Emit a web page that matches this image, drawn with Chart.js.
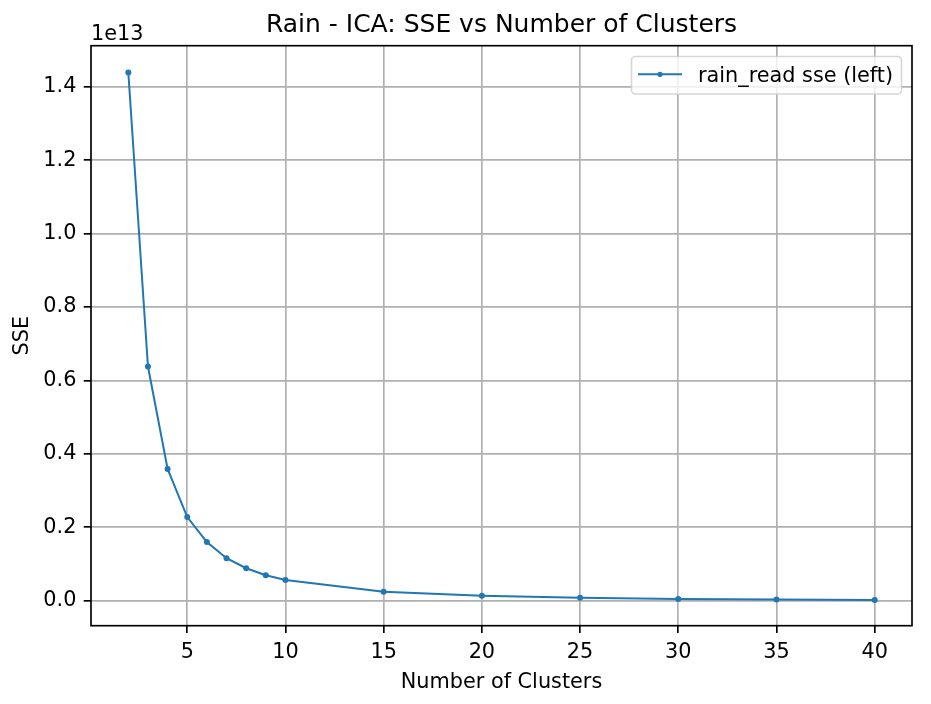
<!DOCTYPE html>
<html>
<head>
<meta charset="utf-8">
<script src="https://cdn.jsdelivr.net/npm/chart.js@4/dist/chart.umd.min.js"></script>
<style>
html,body{margin:0;padding:0;background:#fff;}
#wrap{width:931px;height:704px;}
</style>
</head>
<body>
<div id="wrap"><canvas id="c" width="931" height="704"></canvas></div>
<script>
const titleText = "Rain - ICA: SSE vs Number of Clusters";
const xLabel = "Number of Clusters";
const yLabel = "SSE";
const seriesLabel = "rain_read sse (left)";
const offsetText = "1e13";
const clusters = [2, 3, 4, 5, 6, 7, 8, 9, 10, 15, 20, 25, 30, 35, 40];
const sse = [1.439e13, 0.638e13, 0.359e13, 0.228e13, 0.160e13, 0.116e13, 0.0885e13, 0.0694e13, 0.0566e13, 0.0245e13, 0.0136e13, 0.0082e13, 0.0046e13, 0.0035e13, 0.0020e13];
const xTicks = [5, 10, 15, 20, 25, 30, 35, 40];
const yTicks = [0, 0.2e13, 0.4e13, 0.6e13, 0.8e13, 1.0e13, 1.2e13, 1.4e13];
const yRange = [-0.068e13, 1.512e13];

const FONT = "'DejaVu Sans', sans-serif";
const LINE = '#1f77b4';
const xMinD = Math.min(...clusters), xMaxD = Math.max(...clusters);
const xm = (xMaxD - xMinD) * 0.05;

const framePlugin = {
  id: 'frame',
  afterDatasetsDraw(chart) {
    const {ctx, chartArea: a} = chart;
    ctx.save();
    ctx.strokeStyle = '#000';
    ctx.lineWidth = 1.67;
    ctx.strokeRect(a.left, a.top, a.right - a.left, a.bottom - a.top);
    ctx.restore();
  },
  afterDraw(chart) {
    const {ctx, chartArea: a} = chart;
    ctx.save();
    ctx.font = '20.8px ' + FONT;
    ctx.fillStyle = '#000';
    ctx.textAlign = 'left';
    ctx.textBaseline = 'alphabetic';
    ctx.fillText(offsetText, a.left, 40);
    const bx = 631.5, by = 56.5, bw = 270, bh = 37.5, r = 4;
    ctx.globalAlpha = 0.8;
    ctx.fillStyle = '#fff';
    ctx.beginPath();
    ctx.roundRect(bx, by, bw, bh, r);
    ctx.fill();
    ctx.globalAlpha = 1;
    ctx.strokeStyle = 'rgba(204,204,204,0.8)';
    ctx.lineWidth = 1.6;
    ctx.stroke();
    const ly = 74.3;
    ctx.strokeStyle = LINE;
    ctx.lineWidth = 2;
    ctx.beginPath();
    ctx.moveTo(638, ly);
    ctx.lineTo(682, ly);
    ctx.stroke();
    ctx.fillStyle = LINE;
    ctx.beginPath();
    ctx.arc(660, ly, 2.6, 0, Math.PI * 2);
    ctx.fill();
    ctx.fillStyle = '#000';
    ctx.font = '20.8px ' + FONT;
    ctx.fillText(chart.data.datasets[0].label, 698, 81.5);
    ctx.restore();
  }
};

new Chart(document.getElementById('c'), {
  type: 'line',
  data: {
    datasets: [{
      label: seriesLabel,
      data: clusters.map((k, i) => ({x: k, y: sse[i]})),
      borderColor: LINE,
      backgroundColor: LINE,
      borderWidth: 2,
      pointRadius: 3,
      pointBorderWidth: 0,
      pointBackgroundColor: LINE,
      tension: 0,
      fill: false
    }]
  },
  options: {
    responsive: false,
    devicePixelRatio: 1,
    animation: false,
    layout: {padding: {left: 0, right: 19, top: 0, bottom: 0}},
    plugins: {
      legend: {display: false},
      tooltip: {enabled: false},
      title: {
        display: true,
        fullSize: false,
        text: titleText,
        color: '#000',
        font: {family: FONT, size: 25, weight: 'normal', lineHeight: 1.2},
        padding: {top: 10.6, bottom: 5.1}
      }
    },
    scales: {
      x: {
        type: 'linear',
        min: xMinD - xm,
        max: xMaxD + xm,
        afterBuildTicks(s) { s.ticks = xTicks.map(v => ({value: v})); },
        afterFit(s) { s.height = 78.3; },
        ticks: {
          color: '#000',
          font: {family: FONT, size: 20.8},
          padding: 6.7,
          maxRotation: 0,
          autoSkip: false,
          callback: v => String(v)
        },
        grid: {color: '#b0b0b0', lineWidth: 1.67, tickLength: 7.3, tickColor: '#000', tickWidth: 1.67, drawTicks: true},
        border: {display: false},
        title: {
          display: true,
          text: xLabel,
          color: '#000',
          font: {family: FONT, size: 20.8, lineHeight: 1.2},
          padding: {top: 0, bottom: 9.1}
        }
      },
      y: {
        type: 'linear',
        min: yRange[0],
        max: yRange[1],
        afterBuildTicks(s) { s.ticks = yTicks.map(v => ({value: v})); },
        afterFit(s) { s.width = 91; },
        ticks: {
          color: '#000',
          font: {family: FONT, size: 20.8},
          padding: 7.3,
          autoSkip: false,
          callback: v => (v / 1e13).toFixed(1)
        },
        grid: {color: '#b0b0b0', lineWidth: 1.67, tickLength: 7.3, tickColor: '#000', tickWidth: 1.67, drawTicks: true},
        border: {display: false},
        title: {
          display: true,
          text: yLabel,
          color: '#000',
          font: {family: FONT, size: 20.8, lineHeight: 1.2},
          padding: {top: 10, bottom: 0}
        }
      }
    }
  },
  plugins: [framePlugin]
});
</script>
</body>
</html>
